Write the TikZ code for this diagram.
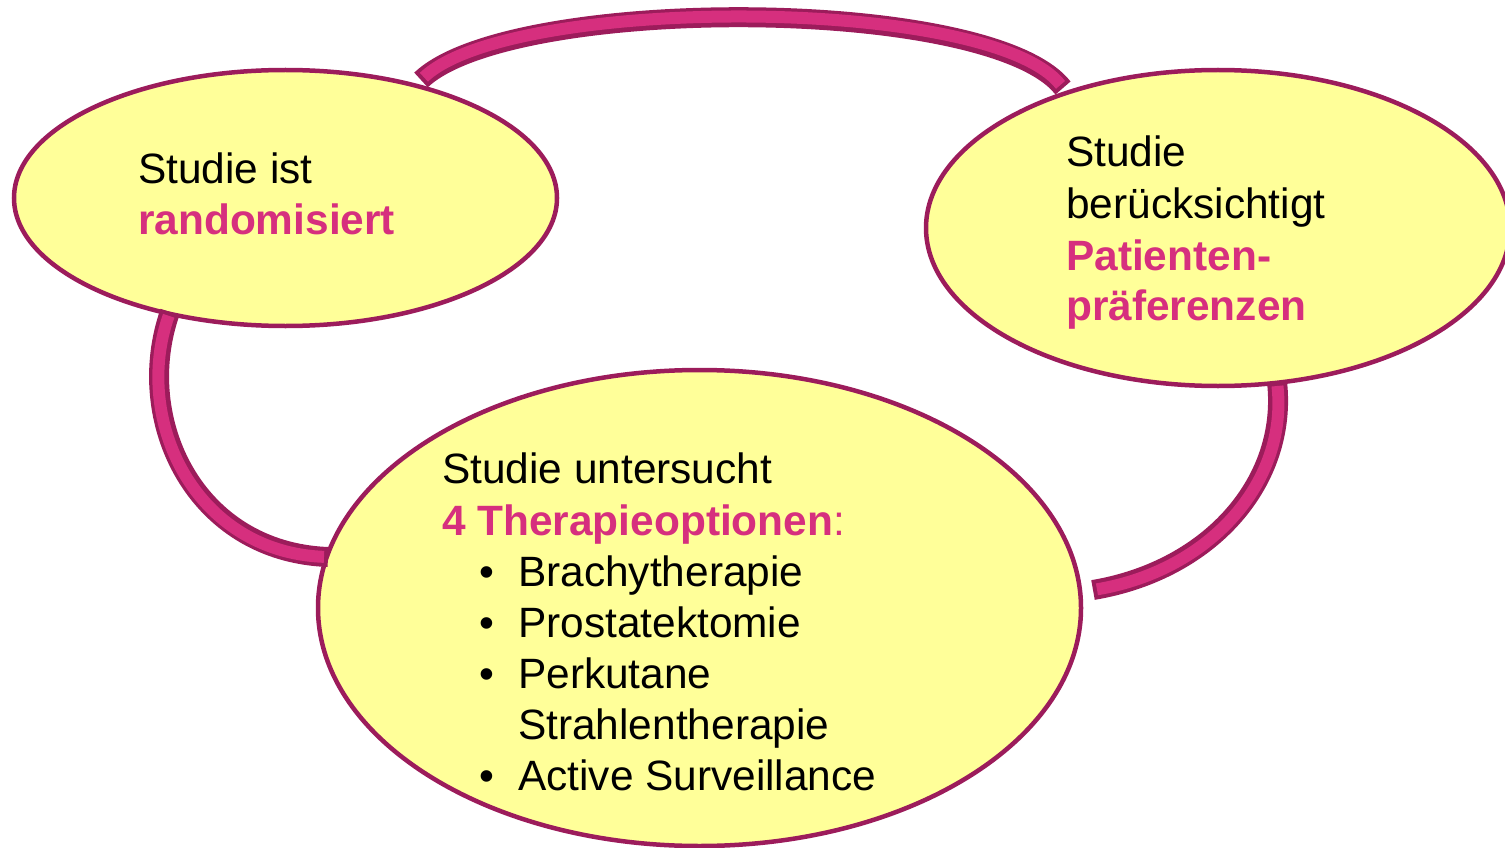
\documentclass[tikz,border=0pt]{standalone}
\usepackage{fontspec}
\setmainfont{Liberation Sans}
\usetikzlibrary{shapes.geometric}
\definecolor{bord}{HTML}{9C1C5B}
\definecolor{ylw}{HTML}{FFFF99}
\definecolor{mag}{HTML}{D62F7E}
\begin{document}
\begin{tikzpicture}[x=1pt,y=-1pt,
  bubble/.style={ellipse, draw=bord, line width=4.5pt, fill=ylw, inner sep=0pt},
  txt/.style={anchor=base west, inner sep=0pt, font=\fontsize{42.4}{51.5}\selectfont},
  hl/.style={anchor=base west, inner sep=0pt, text=mag, font=\fontsize{42.4}{51.5}\selectfont\bfseries},
  bandout/.style={draw=bord, line width=20pt},
  bandin/.style={draw=mag, line width=12pt, shorten <=4pt, shorten >=4pt}]
\useasboundingbox (0,0) rectangle (1505,848);
% bubbles
\node[bubble, minimum width=543pt, minimum height=256pt] (L) at (285.5,198) {};
\node[bubble, minimum width=584pt, minimum height=316pt] (R) at (1218,228) {};
\node[bubble, minimum width=763pt, minimum height=476pt] (B) at (699.5,608) {};
% connector end points
\coordinate (t1) at (421,80);
\coordinate (t2) at (1063,88);
\coordinate (l1) at (170,312);
\coordinate (l2) at (328,557);
\coordinate (r1) at (1277,382);
\coordinate (r2) at (1093,590);
% bands
\draw[bandout] (t1) .. controls (510,-5) and (990,-5) .. (t2);
\draw[bandin]  (t1) .. controls (510,-5) and (990,-5) .. (t2);
\draw[bandout] (l1) .. controls (132,420) and (195,552) .. (l2);
\draw[bandin]  (l1) .. controls (132,420) and (195,552) .. (l2);
\draw[bandout] (r1) .. controls (1288,480) and (1212,570) .. (r2);
\draw[bandin]  (r1) .. controls (1288,480) and (1212,570) .. (r2);
% texts left
\node[txt] (l-a) at (138,183) {Studie ist};
\node[hl]  (l-b) at (138,234) {randomisiert};
% texts right
\node[txt] (r-a) at (1066,167) {Studie};
\node[txt] (r-b) at (1066,218) {berücksichtigt};
\node[hl]  (r-c) at (1066,270) {Patienten-};
\node[hl]  (r-d) at (1066,320) {präferenzen};
% texts bottom
\node[txt] (b-a) at (442,483) {Studie untersucht};
\node[hl]  (b-b) at (442,535) {4 Therapieoptionen\textmd{:}};
\node[txt] (b-1) at (479,586) {•};
\node[txt] (b-1t) at (518,586) {Brachytherapie};
\node[txt] (b-2) at (479,637) {•};
\node[txt] (b-2t) at (518,637) {Prostatektomie};
\node[txt] (b-3) at (479,688) {•};
\node[txt] (b-3t) at (518,688) {Perkutane};
\node[txt] (b-3u) at (518,739) {Strahlentherapie};
\node[txt] (b-4) at (479,790) {•};
\node[txt] (b-4t) at (518,790) {Active Surveillance};
\end{tikzpicture}
\end{document}
